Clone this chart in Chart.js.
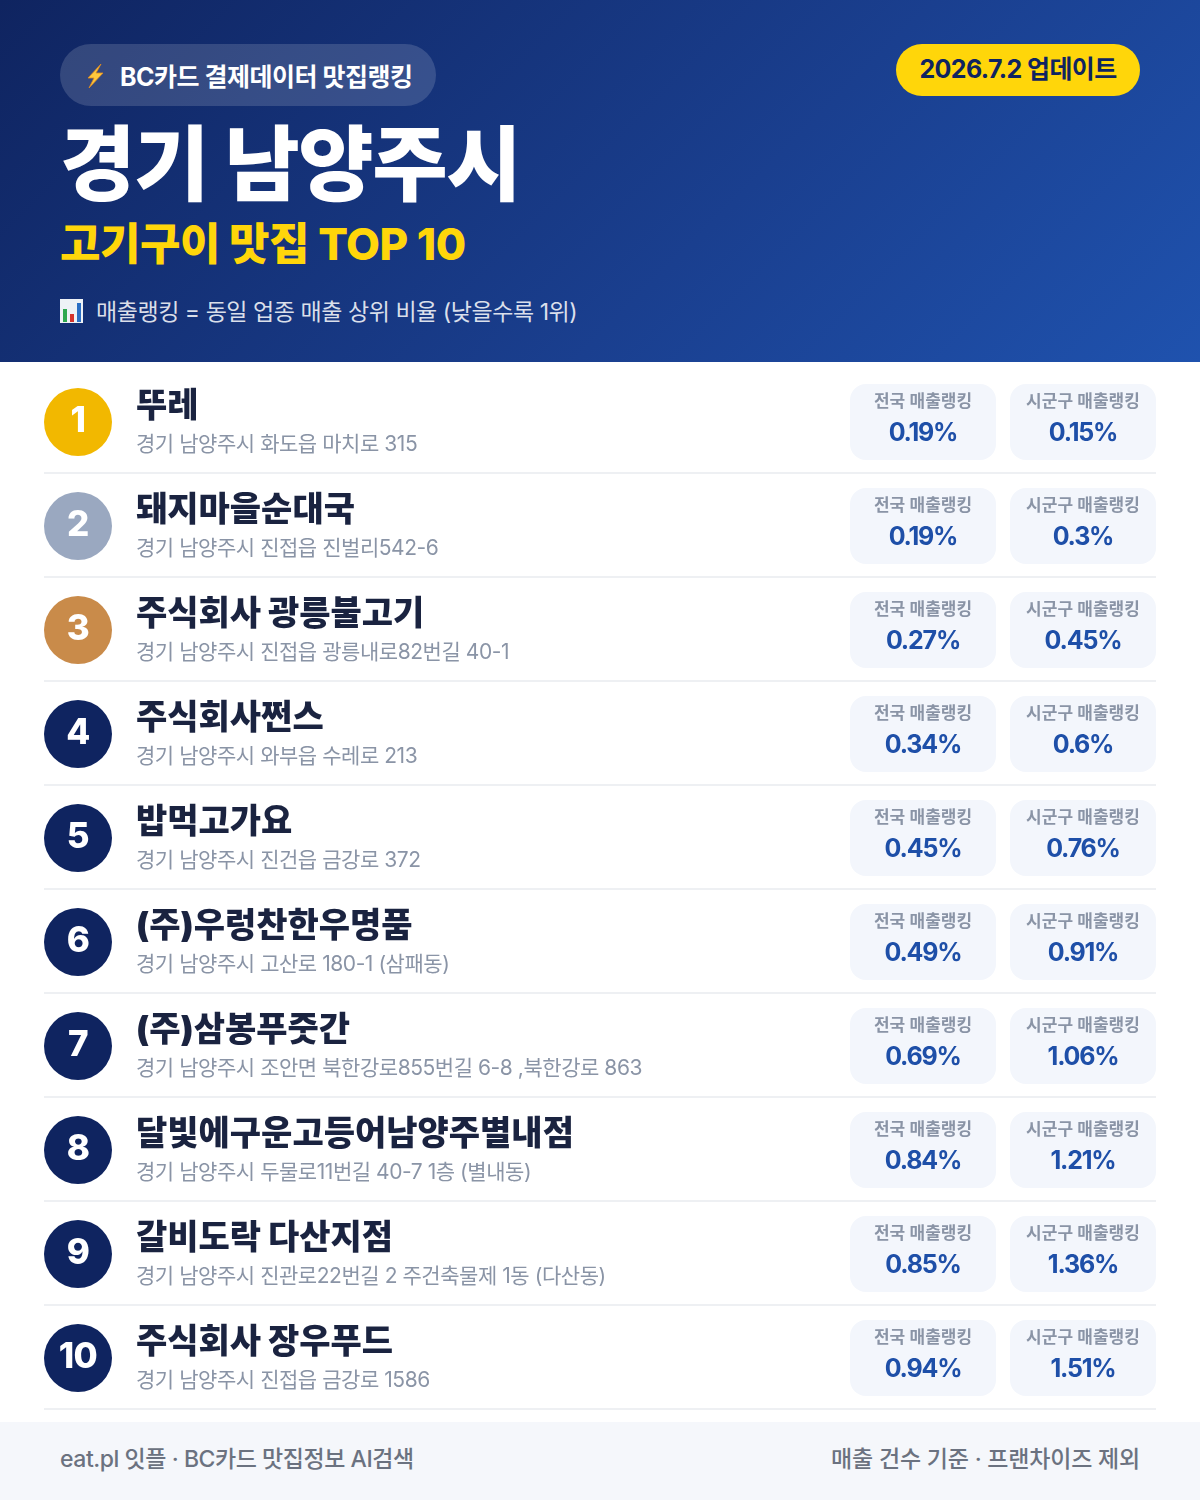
<!DOCTYPE html>
<html lang="ko">
<head>
<meta charset="utf-8">
<title>경기 남양주시 고기구이 맛집 TOP 10</title>
<script src="https://cdn.jsdelivr.net/npm/chart.js@4"></script>
<style>
* { box-sizing: border-box; }
html, body { margin: 0; padding: 0; background: #fff; }
body { width: 1200px; height: 1500px; position: relative; overflow: hidden; font-family: Inter, "Noto Sans CJK KR", sans-serif; }
#head { position: absolute; left: 0; top: 0; width: 1200px; height: 362px; background: linear-gradient(135deg, #0f2460 0%, #1a3f8f 60%, #1f52ae 100%); }
#head > * { position: absolute; white-space: nowrap; }
#tag { left: 60px; top: 44px; width: 376px; height: 62px; border-radius: 31px; background: rgba(255,255,255,0.15); }
#tag svg { position: absolute; left: 24px; top: 19px; }
#tag span { position: absolute; left: 60px; top: 15px; font-size: 25px; line-height: 36px; font-weight: 700; color: #fff; letter-spacing: -0.5px; }
#date { left: 896px; top: 44px; width: 244px; height: 52px; border-radius: 26px; background: #ffd60a; color: #0f2460; font-size: 25px; line-height: 50px; font-weight: 700; text-align: center; letter-spacing: -0.6px; }
#city { left: 60px; top: 110px; font-size: 82px; line-height: 110px; font-weight: 800; color: #fff; letter-spacing: -1.5px; }
#sub { left: 60px; top: 212px; font-size: 44px; line-height: 64px; font-weight: 800; color: #ffd60a; letter-spacing: -0.5px; }
#note { left: 96px; top: 295px; font-size: 23px; line-height: 34px; font-weight: 400; color: rgba(255,255,255,0.85); letter-spacing: -0.45px; }
#noteIcon { left: 60px; top: 299px; }
#chartWrap { position: absolute; left: 0; top: 362px; width: 1200px; height: 1060px; }
#foot { position: absolute; left: 0; top: 1422px; width: 1200px; height: 78px; background: #f5f7fb; color: #6b7280; font-size: 23px; line-height: 75px; font-weight: 500; letter-spacing: -0.2px; }
#foot span { position: absolute; top: 0; white-space: nowrap; }
</style>
</head>
<body>
<div id="head">
  <div id="tag">
    <svg width="22" height="26" viewBox="0 0 22 26"><path d="M17 1 L4 15 H10 L5 25 L19 10 H12 Z" fill="#ffc83d" stroke="#e08a1e" stroke-width="0.8"/></svg>
    <span>BC카드 결제데이터 맛집랭킹</span>
  </div>
  <div id="date">2026.7.2 업데이트</div>
  <div id="city">경기 남양주시</div>
  <div id="sub">고기구이 맛집 TOP 10</div>
  <svg id="noteIcon" width="23" height="24" viewBox="0 0 23 24"><rect width="23" height="24" fill="#eef2f6"/><rect x="3" y="10" width="4" height="13" fill="#2ea84f"/><rect x="10" y="15" width="4" height="8" fill="#d4342c"/><rect x="17" y="4" width="4" height="19" fill="#2b6fc4"/></svg>
  <div id="note">매출랭킹 = 동일 업종 매출 상위 비율 (낮을수록 1위)</div>
</div>
<div id="chartWrap"><canvas id="rankChart" width="1200" height="1060"></canvas></div>
<div id="foot">
  <span style="left:60px; letter-spacing:-0.45px">eat.pl 잇플 · BC카드 맛집정보 AI검색</span>
  <span style="right:60px">매출 건수 기준 · 프랜차이즈 제외</span>
</div>
<script>
const ranks = [1, 2, 3, 4, 5, 6, 7, 8, 9, 10];
const names = ['뚜레', '돼지마을순대국', '주식회사 광릉불고기', '주식회사쩐스', '밥먹고가요', '(주)우렁찬한우명품', '(주)삼봉푸줏간', '달빛에구운고등어남양주별내점', '갈비도락 다산지점', '주식회사 장우푸드'];
const addresses = [
  '경기 남양주시 화도읍 마치로 315',
  '경기 남양주시 진접읍 진벌리542-6',
  '경기 남양주시 진접읍 광릉내로82번길 40-1',
  '경기 남양주시 와부읍 수레로 213',
  '경기 남양주시 진건읍 금강로 372',
  '경기 남양주시 고산로 180-1 (삼패동)',
  '경기 남양주시 조안면 북한강로855번길 6-8 ,북한강로 863',
  '경기 남양주시 두물로11번길 40-7 1층 (별내동)',
  '경기 남양주시 진관로22번길 2 주건축물제 1동 (다산동)',
  '경기 남양주시 진접읍 금강로 1586'
];
const nationalRank = [0.19, 0.19, 0.27, 0.34, 0.45, 0.49, 0.69, 0.84, 0.85, 0.94];
const districtRank = [0.15, 0.3, 0.45, 0.6, 0.76, 0.91, 1.06, 1.21, 1.36, 1.51];
const chipLabels = ['전국 매출랭킹', '시군구 매출랭킹'];
const badgeColors = ['#f2b800', '#9aa8c0', '#c98b4a', '#0f2460', '#0f2460', '#0f2460', '#0f2460', '#0f2460', '#0f2460', '#0f2460'];

const FONT = 'Inter, "Noto Sans CJK KR", sans-serif';

function drawText(ctx, text, x, y, font, color, align, spacing) {
  ctx.font = font + ' ' + FONT;
  ctx.fillStyle = color;
  ctx.textAlign = align;
  ctx.textBaseline = 'middle';
  ctx.letterSpacing = spacing || '0px';
  ctx.fillText(text, x, y);
}

// everything that is not a round badge hangs off the y scale of the chart
const rowsPlugin = {
  id: 'rows',
  beforeDatasetsDraw(chart) {
    const ctx = chart.ctx;
    const y = chart.scales.y;
    ctx.save();
    ranks.forEach((r) => {
      const cy = y.getPixelForValue(r);
      ctx.fillStyle = '#eef0f3';
      ctx.fillRect(44, y.getPixelForValue(r + 0.5) - 2, 1112, 2);
      [[850, nationalRank[r - 1], 0], [1010, districtRank[r - 1], 1]].forEach(([left, val, k]) => {
        ctx.fillStyle = '#f3f6fc';
        ctx.beginPath();
        ctx.roundRect(left, cy - 38, 146, 76, 16);
        ctx.fill();
        drawText(ctx, chipLabels[k], left + 73, cy - 20, '600 17px', '#8a94a6', 'center');
        drawText(ctx, val + '%', left + 73, cy + 11, '700 25px', '#1e4fa8', 'center', '-1.2px');
      });
      drawText(ctx, names[r - 1], 136, cy - 15, '900 34px', '#1a2340', 'left');
      drawText(ctx, addresses[r - 1], 136, cy + 23, '400 21px', '#8a94a6', 'left', '-0.45px');
    });
    ctx.restore();
  },
  afterDatasetsDraw(chart) {
    const ctx = chart.ctx;
    const { x, y } = chart.scales;
    ctx.save();
    ranks.forEach((r) => {
      drawText(ctx, String(r), x.getPixelForValue(78), y.getPixelForValue(r) - 1, '800 35px', '#ffffff', 'center', '-0.5px');
    });
    ctx.restore();
  }
};

new Chart(document.getElementById('rankChart'), {
  type: 'scatter',
  data: {
    datasets: [{
      label: '순위',
      data: ranks.map((r) => ({ x: 78, y: r })),
      pointRadius: 34,
      pointHoverRadius: 34,
      pointBorderWidth: 0,
      pointBackgroundColor: badgeColors
    }]
  },
  options: {
    responsive: false,
    animation: false,
    layout: { autoPadding: false, padding: { top: 8, bottom: 12, left: 0, right: 0 } },
    plugins: { legend: { display: false }, tooltip: { enabled: false } },
    scales: {
      x: { display: false, min: 0, max: 1200 },
      y: { display: false, reverse: true, min: 0.5, max: 10.5 }
    }
  },
  plugins: [rowsPlugin]
});
</script>
</body>
</html>
